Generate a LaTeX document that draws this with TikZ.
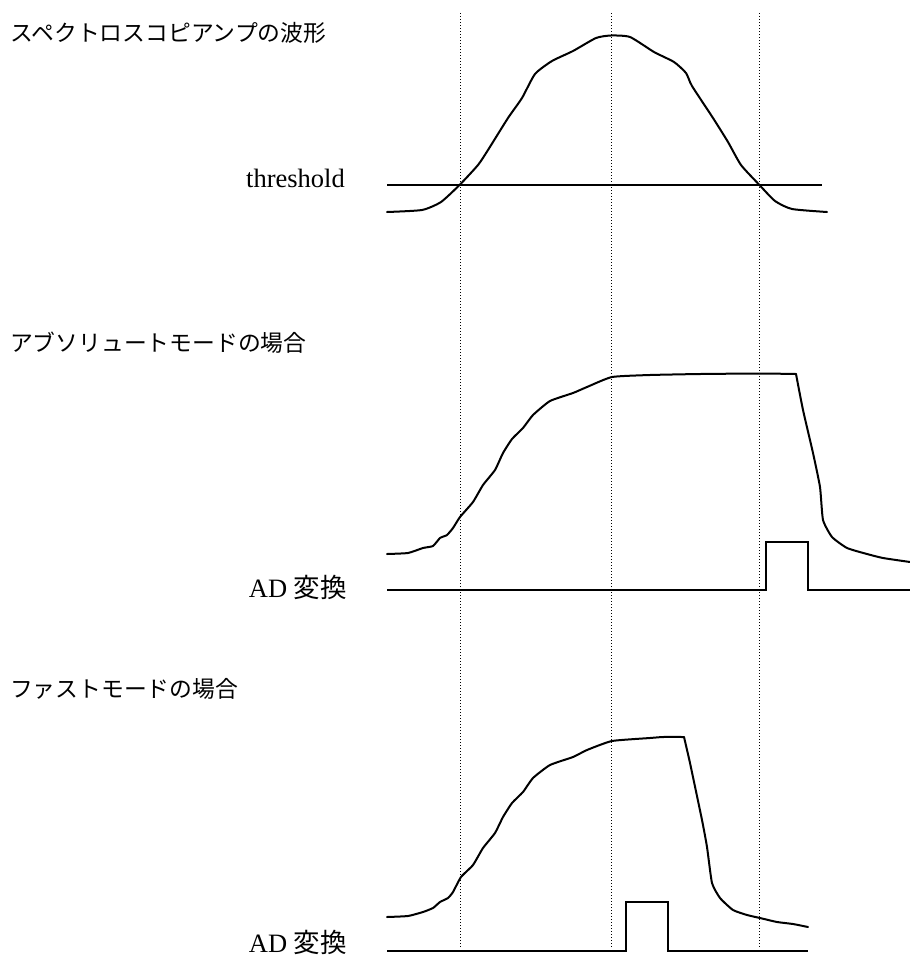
\documentclass[tikz,border=0pt]{standalone}
\usepackage{fontspec}
\setmainfont{Liberation Serif}
\newfontfamily\jpfont{Noto Sans CJK JP}
\begin{document}
\begin{tikzpicture}[x=1pt,y=-1pt,
  wave/.style={line width=2pt, line join=round, line cap=round},
  pulse/.style={line width=2pt, line join=miter},
  guide/.style={line width=1.1pt, dash pattern=on 1.1pt off 1.9pt},
  titletext/.style={anchor=west, inner sep=0pt, font=\jpfont\fontsize{22.8}{26}\selectfont},
  labeltext/.style={anchor=base east, inner sep=0pt, font=\fontsize{26.5}{30}\selectfont}]
\useasboundingbox (0,0) rectangle (910,959);
% guide lines
\foreach \x/\n in {460.5/a,611.5/b,759.5/c}{
  \coordinate (g\n top) at (\x,13);
  \coordinate (g\n bot) at (\x,948);
  \draw[guide] (g\n top) -- (g\n bot);
}
% titles and labels
\node[titletext] (t1) at (10,33) {スペクトロスコピアンプの波形};
\node[titletext] (t2) at (10,343) {アブソリュートモードの場合};
\node[titletext] (t3) at (10,689) {ファストモードの場合};
\node[labeltext] (thr) at (345,187) {threshold};
\node[labeltext] (ad1) at (347,597) {AD {\jpfont 変換}};
\node[labeltext] (ad2) at (347,952.5) {AD {\jpfont 変換}};
% top waveform
\coordinate (thrL) at (387,184.5);
\coordinate (thrR) at (822,184.5);
\draw[line width=2pt] (thrL) -- (thrR);
\draw[wave] plot[smooth, tension=0.35] coordinates {
 (387,212) (422,210) (441,202) (460,184.5) (478,165) (488,150) (508,118) (522,98)
 (535,74) (552,61) (573,51) (596,38) (611,35.5) (630,37) (654,52) (674,62) (686,73)
 (692,86) (713,118) (728,142) (741,165) (759,184.5) (775,201) (792,209) (827,212)};
% absolute mode
\draw[wave] plot[smooth, tension=0.3] coordinates {
 (387,554) (408,553) (423,548) (433,546) (440,538) (447,535) (453,528) (460,517)
 (473,502) (483,485) (495,470) (503,453) (512,439) (523,428) (533,415) (550,401)
 (573,393) (587,387) (612,377) (650,375) (700,374) (760,373.5) (796,374)};
\draw[wave] plot[smooth, tension=0.3] coordinates {
 (796,374) (803,410) (813,453) (820,487) (823,520) (832,537) (847,548) (867,554)
 (883,558) (910,562)};
\draw[pulse] (387,590) -- (765.7,590) -- (765.7,542) -- (808,542) -- (808,590) -- (910,590);
% fast mode
\draw[wave] plot[smooth, tension=0.3] coordinates {
 (387,917) (408,916) (423,912) (433,908) (440,902) (448,898) (453,892) (461,877)
 (473,865) (483,848) (495,833) (503,817) (512,803) (523,792) (533,778) (550,765)
 (573,757) (587,750) (612,741) (650,738) (663,737) (684,737)};
\draw[wave] plot[smooth, tension=0.3] coordinates {
 (684,737) (690,763) (702,820) (707,847) (712,883) (720,898) (733,910) (747,915)
 (760,918) (777,922) (793,924) (808,927)};
\draw[pulse] (387,951) -- (626,951) -- (626,902) -- (668,902) -- (668,951) -- (808,951);
\end{tikzpicture}
\end{document}
